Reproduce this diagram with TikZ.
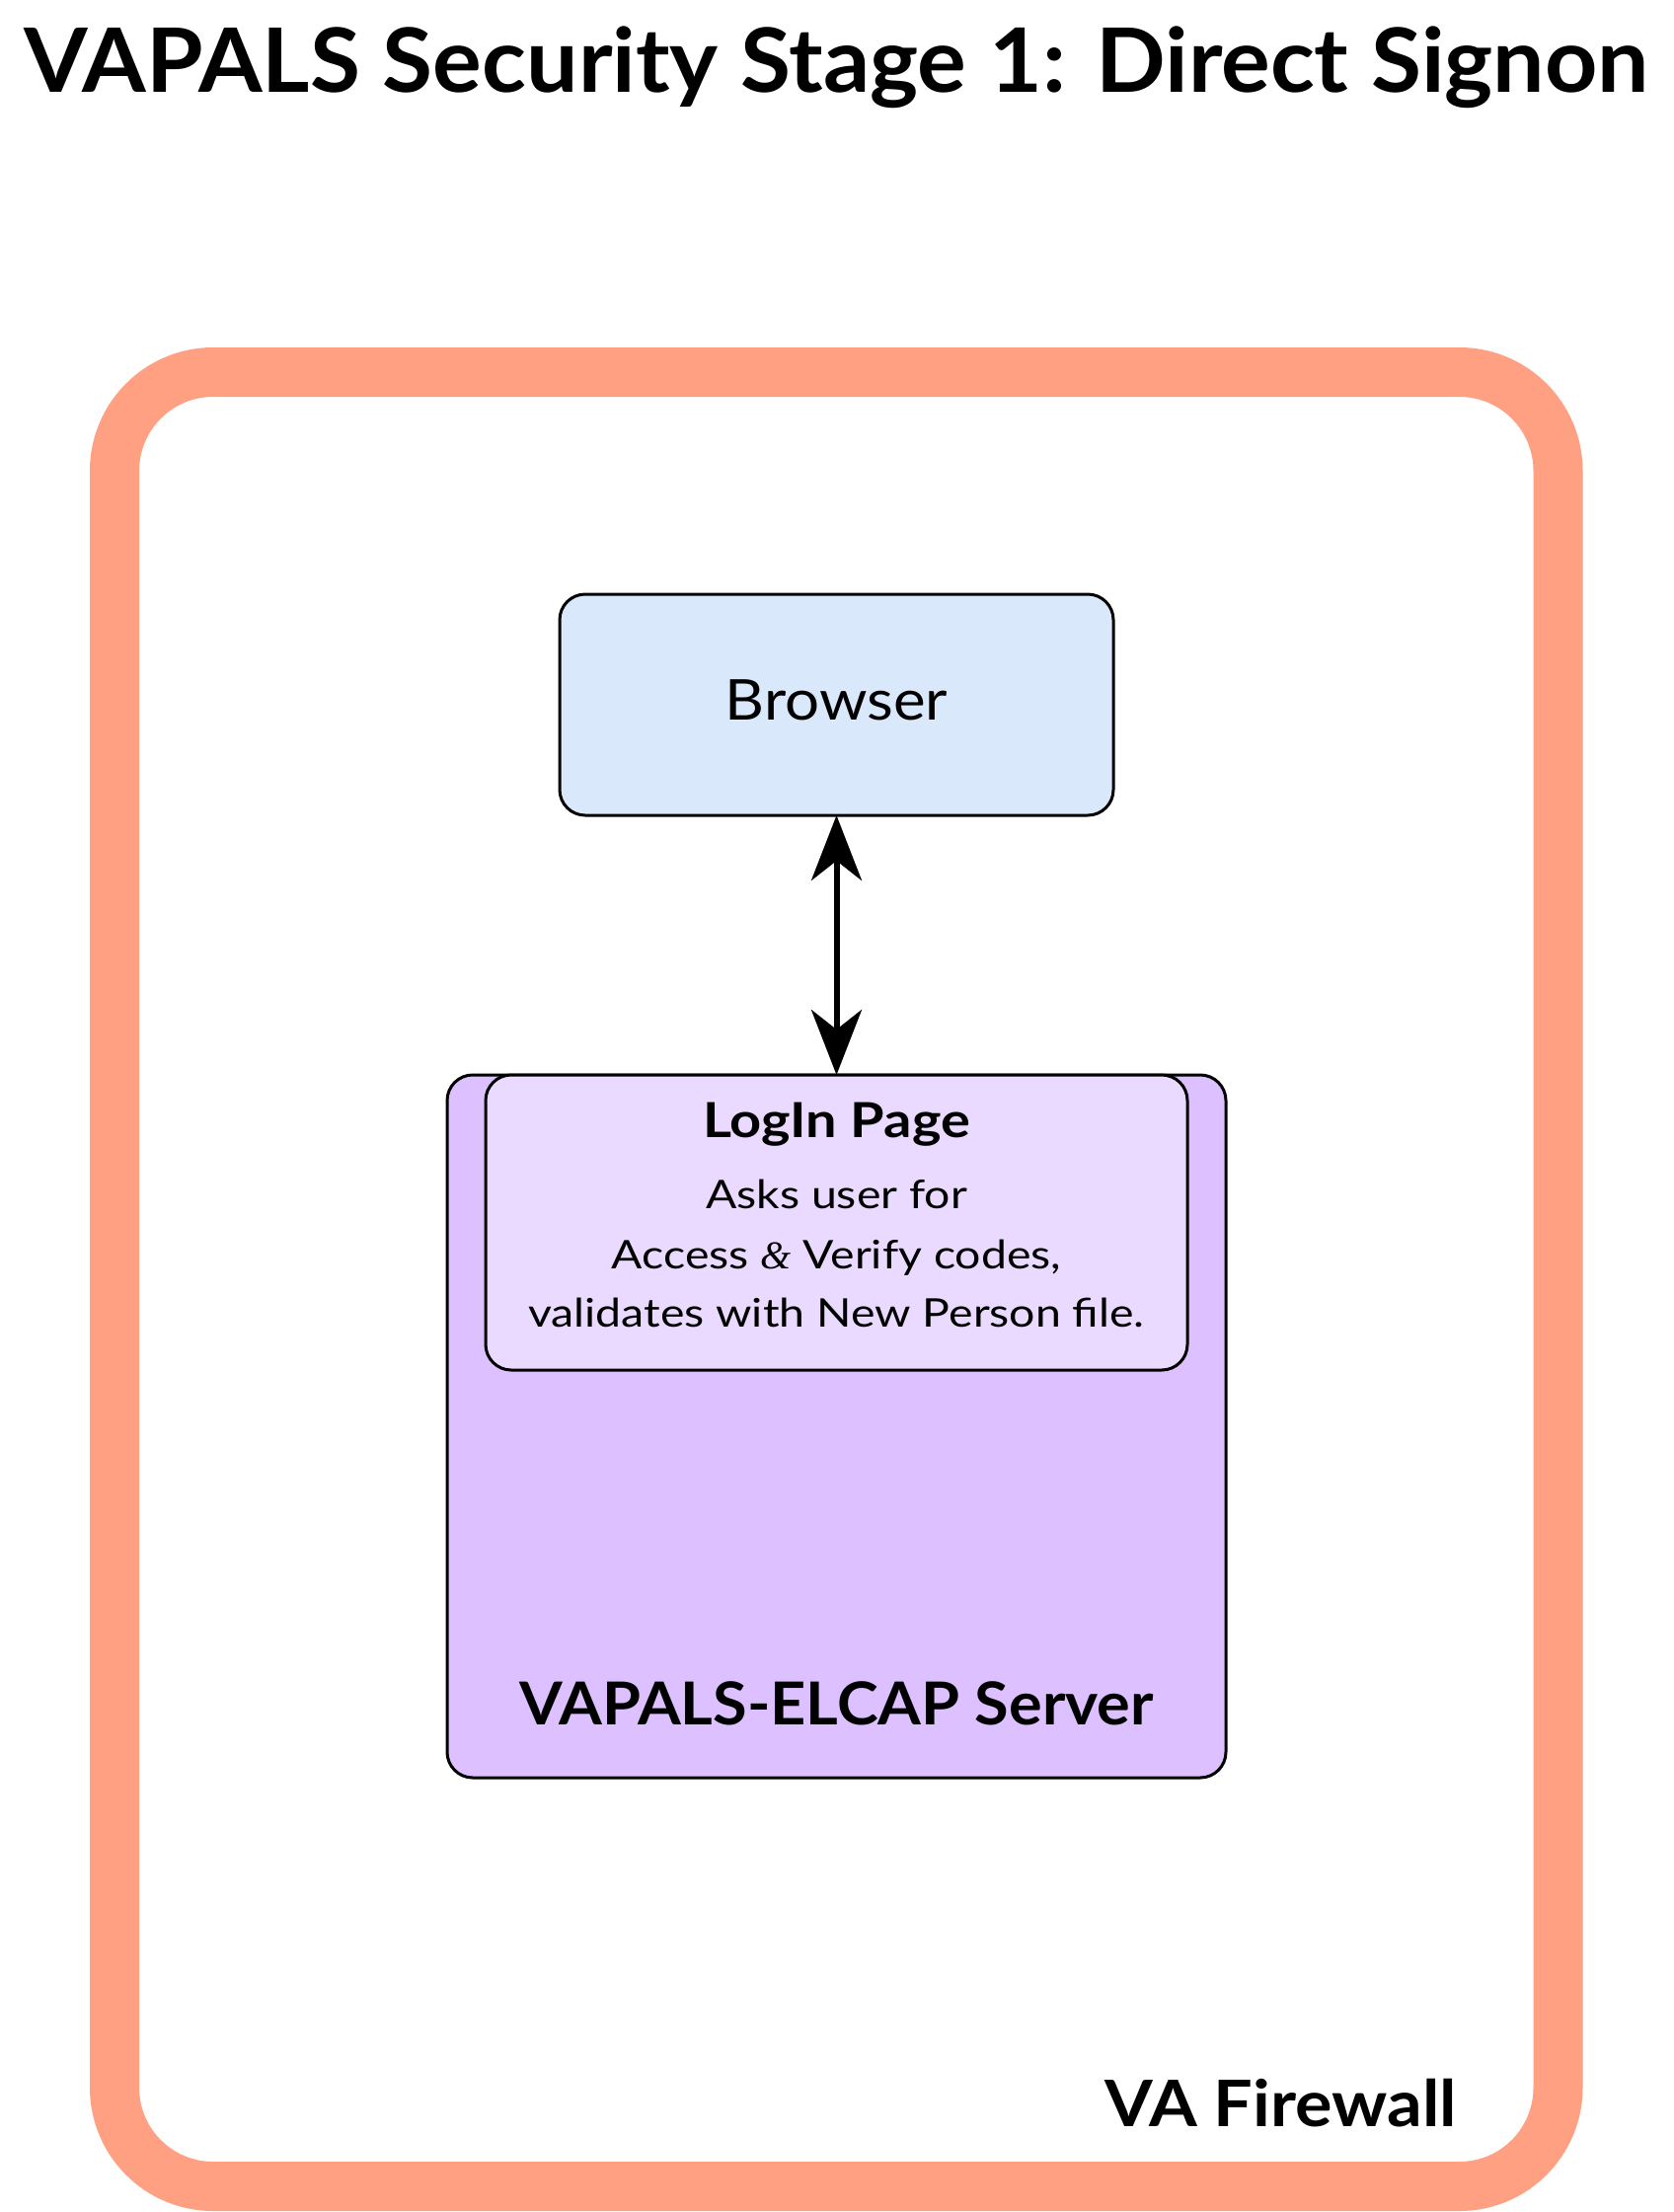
\documentclass[tikz,border=0pt]{standalone}
\usepackage{fontspec}
\setmainfont{Lato}
\newfontfamily\ampfont{Liberation Serif}
\usetikzlibrary{arrows.meta}
\definecolor{fwcol}{RGB}{255,160,130}
\definecolor{bluefill}{RGB}{218,232,252}
\definecolor{srvfill}{RGB}{221,192,255}
\definecolor{logfill}{RGB}{235,218,255}
\newcommand\stretchfont[1]{\addfontfeatures{FakeStretch=#1}}
\tikzset{
  box/.style={draw=black, line width=3pt, rounded corners=26pt, inner sep=0pt, outer sep=0pt},
  txt/.style={anchor=base, inner sep=0pt, outer sep=0pt, text=black},
  conn/.style={line width=6pt, >={Stealth[length=66pt, width=51pt, inset=20pt]}, <->}
}
\begin{document}
\begin{tikzpicture}[x=1pt, y=-1pt]
\useasboundingbox (0,0) rectangle (1695,2241);
% firewall
\node[draw=fwcol, line width=50pt, rounded corners=100pt, minimum width=1462.5pt, minimum height=1838pt, inner sep=0pt, outer sep=0pt] (fw) at (847.25,1296) {};
\node[txt, anchor=base east] (fwlabel) at (1476,2154) {\fontsize{65}{78}\selectfont\bfseries\stretchfont{1.08}VA Firewall};
% title
\node[txt] (title) at (847.5,93) {\fontsize{90}{108}\selectfont\bfseries\stretchfont{1.034}VAPALS Security Stage 1: Direct Signon};
% browser
\node[box, fill=bluefill, minimum width=561pt, minimum height=224pt] (browser) at (847.5,714) {};
\node[txt] (browsertxt) at (847.5,729) {\fontsize{57}{68}\selectfont\stretchfont{1.084}Browser};
% server
\node[box, fill=srvfill, minimum width=789pt, minimum height=712pt] (server) at (847.5,1445) {};
\node[txt] (servertxt) at (847.5,1747) {\fontsize{60}{72}\selectfont\bfseries\stretchfont{1.05}VAPALS-ELCAP Server};
% login page
\node[box, fill=logfill, minimum width=711pt, minimum height=299pt] (login) at (847.5,1238.5) {};
\node[txt] (logintitle) at (847.5,1152) {\fontsize{49}{59}\selectfont\bfseries\stretchfont{1.14}LogIn Page};
\node[txt] (l1) at (847.5,1224) {\fontsize{40}{48}\selectfont\stretchfont{1.16}Asks user for};
\node[txt] (l2) at (847.5,1285) {\fontsize{40}{48}\selectfont\stretchfont{1.16}Access {\ampfont\itshape\&} Verify codes,};
\node[txt] (l3) at (847.5,1344) {\fontsize{40}{48}\selectfont\stretchfont{1.16}validates with New Person file.};
% connector
\draw[conn] (browser.south) -- (server.north);
\end{tikzpicture}
\end{document}
